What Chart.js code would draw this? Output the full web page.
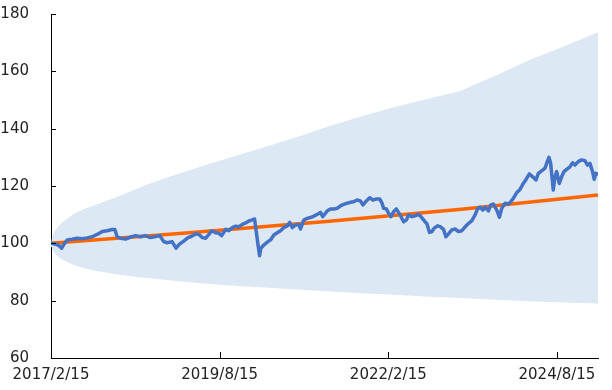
<!DOCTYPE html>
<html><head><meta charset="utf-8">
<script src="https://cdn.jsdelivr.net/npm/chart.js@4/dist/chart.umd.min.js"></script>
<style>html,body{margin:0;padding:0;background:#fff}#wrap{width:612px;height:390px;position:relative}</style>
</head><body><div id="wrap"><canvas id="c" width="612" height="390"></canvas></div>
<script>
// x unit: months since 2017/2/15
const xTickMonths = [0, 30, 60, 90];
const xTickLabels = ['2017/2/15', '2019/8/15', '2022/2/15', '2024/8/15'];
const xMaxMonths = 97.3;
const yTickValues = [60, 80, 100, 120, 140, 160, 180];

const blueMonths = [0,0.83,1.42,1.90,2.31,2.89,3.78,4.67,5.56,6.44,7.33,8.22,9.11,9.99,10.88,11.36,11.77,12.37,13.26,14.15,15.04,15.92,16.81,17.70,18.59,19.35,20.06,20.64,21.53,22.24,22.85,23.61,24.37,
24.85,25.74,26.33,26.93,27.51,28.10,28.58,29.29,29.88,30.36,31.07,31.65,32.26,32.84,33.43,34.03,34.62,35.20,35.80,36.21,36.51,36.87,37.10,37.33,37.86,38.47,39.05,39.64,40.24,40.83,41.41,42.02,42.48,42.91,43.49,44.08,44.38,44.96,45.57,46.46,47.34,47.93,48.34,48.82,
49.12,49.70,50.29,50.89,51.48,52.07,52.67,53.25,53.84,54.44,55.03,55.51,56.09,56.68,57.28,57.87,58.46,58.88,59.17,59.65,60.05,60.48,60.94,61.42,61.83,62.26,62.72,63.20,63.60,64.21,64.79,65.38,65.68,66.27,66.87,67.33,67.76,68.17,68.75,69.23,69.82,70.24,70.71,71.31,71.89,72.48,73.08,
73.97,74.86,75.44,75.85,76.33,76.81,77.22,77.81,78.23,78.69,79.30,79.76,80.18,80.77,81.36,81.78,82.24,82.85,83.43,84.02,84.50,85.08,85.69,86.27,86.68,87.28,87.87,88.28,88.58,88.88,89.17,89.34,89.65,89.95,90.41,90.83,91.24,91.72,92.31,92.79,93.20,93.78,94.38,94.97,95.45,95.86,96.34,96.63,96.92,97.22];
const blueValues = [100,99.7,99.2,98.3,99.7,101.2,101.4,101.8,101.6,101.9,102.3,103.1,104.1,104.4,104.8,104.8,102.3,101.8,101.5,102.2,102.7,102.3,102.7,102.0,102.4,102.7,100.6,100.2,100.6,98.3,99.7,100.8,102.0,
102.3,103.3,103.1,102.0,101.8,103.1,104.4,103.7,103.5,102.7,104.9,104.4,105.5,106.0,105.8,106.6,107.1,107.8,108.2,108.5,104.1,98.8,95.7,98.3,99.4,100.4,101.2,102.9,103.7,104.4,105.5,106.1,107.3,105.5,106.4,106.6,105.0,108.1,108.7,109.2,110.1,110.8,109.3,110.5,
111.3,112.0,112.0,112.2,113.1,113.6,114.0,114.3,114.5,115.1,114.8,113.4,114.8,115.9,115.1,115.5,115.5,114.0,112.2,112.0,110.5,109.3,111.0,112.0,110.8,109.3,107.5,108.1,109.9,109.3,109.6,110.1,109.6,108.2,106.8,103.8,104.1,105.3,106.1,105.8,104.9,102.3,103.3,104.7,105.0,104.1,104.4,
106.4,107.9,109.9,111.9,112.6,111.6,112.6,111.3,113.4,113.7,111.6,109.1,112.2,114.0,113.7,114.5,115.7,117.7,118.8,120.9,122.3,124.2,123.2,122.1,124.4,125.3,126.2,128.5,130.0,127.9,122.1,118.6,123.2,125.0,120.9,123.2,125.0,125.8,126.7,128.1,127.3,128.5,129.1,128.8,127.3,127.9,125.0,122.3,124.4,124.2];

const trendMonths = [0, 24, 49, 73, 97.3];
const trendValues = [100, 103.6, 107.6, 111.9, 116.9];

const bandMonths = [0, 0.1, 0.3, 0.6, 1.0, 1.4, 2.2, 3.2, 4.3, 5.6, 7.0, 8.5, 10.0, 11.5, 14.2, 17.0, 20.1, 26, 32, 37.9, 43.8, 49.7, 55.6, 61.5, 67.5, 72.8, 79.3, 85.2, 91.1, 97.3];
const bandUpper = [100, 101.2, 102.7, 104.1, 105.2, 106.1, 107.6, 109.1, 110.5, 111.7, 112.8, 113.8, 114.9, 116.0, 118.2, 120.4, 122.6, 126.4, 130.0, 133.5, 137.1, 141.0, 144.5, 147.7, 150.6, 153.1, 158.7, 164.0, 168.6, 173.6];
const bandLower = [100, 98.8, 97.7, 96.6, 95.8, 95.1, 94.1, 93.1, 92.3, 91.5, 90.8, 90.2, 89.7, 89.2, 88.5, 87.9, 87.3, 86.2, 85.3, 84.6, 83.9, 83.2, 82.6, 82.0, 81.4, 80.9, 80.3, 79.8, 79.4, 79.0];

const pts = (xs, ys) => xs.map((x, i) => ({x: x, y: ys[i]}));
const FONT = {family: 'DejaVu Sans', size: 15};

const innerTicks = {
  id: 'innerTicks',
  afterDatasetsDraw(chart) {
    const {ctx, chartArea: a, scales: {x, y}} = chart;
    ctx.save();
    ctx.strokeStyle = '#000';
    ctx.lineWidth = 1;
    ctx.beginPath();
    yTickValues.slice(1).forEach(v => {
      const py = Math.round(y.getPixelForValue(v)) + 0.5;
      ctx.moveTo(a.left, py); ctx.lineTo(a.left + 5, py);
    });
    xTickMonths.slice(1).forEach(m => {
      const px = Math.round(x.getPixelForValue(m)) + 0.5;
      ctx.moveTo(px, a.bottom); ctx.lineTo(px, a.bottom - 6);
    });
    ctx.stroke();
    ctx.restore();
  }
};

new Chart(document.getElementById('c'), {
  type: 'line',
  data: {
    datasets: [
      {data: pts(blueMonths, blueValues), borderColor: '#4472C4', borderWidth: 3.5, borderJoinStyle: 'round', borderCapStyle: 'round', fill: false, pointRadius: 0},
      {data: pts(trendMonths, trendValues), borderColor: '#FF6600', borderWidth: 3.5, fill: false, pointRadius: 0},
      {data: pts(bandMonths, bandUpper), borderColor: 'rgba(0,0,0,0)', borderWidth: 0, backgroundColor: '#DDE8F5', fill: '+1', pointRadius: 0},
      {data: pts(bandMonths, bandLower), borderColor: 'rgba(0,0,0,0)', borderWidth: 0, fill: false, pointRadius: 0}
    ]
  },
  options: {
    responsive: false, animation: false, devicePixelRatio: 1,
    layout: {padding: {top: 14, right: 14, left: 0, bottom: 0}},
    plugins: {legend: {display: false}, tooltip: {enabled: false}},
    elements: {point: {radius: 0}, line: {tension: 0}},
    scales: {
      x: {
        type: 'linear', min: 0, max: xMaxMonths,
        grid: {display: false},
        border: {display: true, color: '#000', width: 1},
        afterBuildTicks: s => { s.ticks = xTickMonths.map(v => ({value: v})); },
        ticks: {autoSkip: false, maxRotation: 0, padding: 0, color: '#222', font: FONT,
          callback: (v, i) => xTickLabels[i]},
        afterFit: s => { s.height = 32; }
      },
      y: {
        min: 60, max: 180,
        grid: {display: false},
        border: {display: true, color: '#000', width: 1},
        afterBuildTicks: s => { s.ticks = yTickValues.map(v => ({value: v})); },
        ticks: {padding: 14, color: '#222', font: FONT},
        afterFit: s => { s.width = 51; s.paddingTop = 0; s.paddingBottom = 0; }
      }
    }
  },
  plugins: [innerTicks]
});
</script>
</body></html>
